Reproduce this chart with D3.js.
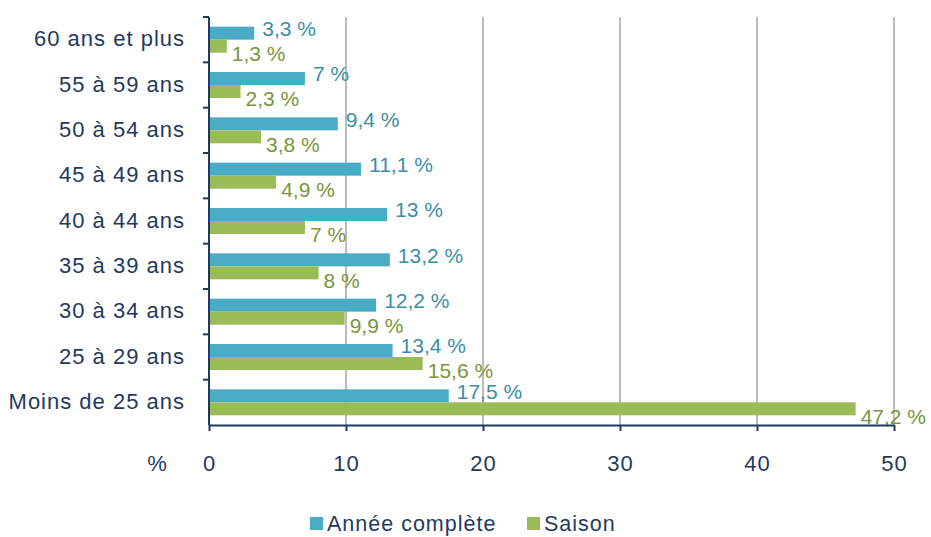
<!DOCTYPE html>
<html>
<head>
<meta charset="utf-8">
<script src="https://cdn.jsdelivr.net/npm/d3@7"></script>
<style>
  body { margin: 0; background: #fff; }
  svg text { font-family: "Liberation Sans", Arial, sans-serif; }
</style>
</head>
<body>
<div id="chart"></div>
<script>
// data
const categories = ['60 ans et plus', '55 à 59 ans', '50 à 54 ans', '45 à 49 ans', '40 à 44 ans',
  '35 à 39 ans', '30 à 34 ans', '25 à 29 ans', 'Moins de 25 ans'];
const anneeComplete = [3.3, 7, 9.4, 11.1, 13, 13.2, 12.2, 13.4, 17.5];
const saison = [1.3, 2.3, 3.8, 4.9, 7, 8, 9.9, 15.6, 47.2];
const seriesNames = ['Année complète', 'Saison'];
const xTicks = [0, 10, 20, 30, 40, 50];

const W = 931, H = 537;
const MARGIN_LEFT = 209, MARGIN_RIGHT = 34, MARGIN_TOP = 17, MARGIN_BOTTOM = 112;
const BLUE = '#4bacc6', GREEN = '#9bbb59';
const BLUE_TXT = '#3a8fa8', GREEN_TXT = '#78963a', NAVY = '#1f3a60';

const fmt = v => String(v).replace('.', ',') + ' %';

const svg = d3.select('#chart').append('svg').attr('width', W).attr('height', H);

const x = d3.scaleLinear().domain([0, 50]).range([MARGIN_LEFT, W - MARGIN_RIGHT - 3]);
const y = d3.scaleBand().domain(categories).range([MARGIN_TOP, H - MARGIN_BOTTOM]);
const barH = 13;

// gridlines
svg.append('g').selectAll('line').data(xTicks.slice(1)).join('line')
  .attr('x1', d => x(d)).attr('x2', d => x(d))
  .attr('y1', MARGIN_TOP).attr('y2', H - MARGIN_BOTTOM)
  .attr('stroke', '#a6a6a6').attr('stroke-width', 1.5);

const rows = categories.map((c, i) => ({ c, a: anneeComplete[i], s: saison[i] }));

// bars
const $vis = svg.append('g');
$vis.selectAll('.ba').data(rows).join('rect')
  .attr('x', x(0)).attr('y', d => y(d.c) + y.bandwidth() / 2 - barH)
  .attr('width', d => x(d.a) - x(0)).attr('height', barH).attr('fill', BLUE);
$vis.selectAll('.bs').data(rows).join('rect')
  .attr('x', x(0)).attr('y', d => y(d.c) + y.bandwidth() / 2)
  .attr('width', d => x(d.s) - x(0)).attr('height', barH).attr('fill', GREEN);

// value labels
$vis.selectAll('.la').data(rows).join('text')
  .attr('x', d => x(d.a) + 8).attr('y', d => y(d.c) + y.bandwidth() / 2 - 11)
  .attr('dy', '0.35em').attr('font-size', 21).attr('fill', BLUE_TXT)
  .text(d => fmt(d.a));
$vis.selectAll('.ls').data(rows).join('text')
  .attr('x', d => x(d.s) + 5).attr('y', d => y(d.c) + y.bandwidth() / 2 + 14)
  .attr('dy', '0.35em').attr('font-size', 21).attr('fill', GREEN_TXT)
  .text(d => fmt(d.s));

// axes
const yAxis = svg.append('g').attr('transform', `translate(${x(0)},0)`)
  .call(d3.axisLeft(y).tickSize(0).tickFormat(''));
yAxis.select('.domain').attr('stroke', NAVY).attr('stroke-width', 2).attr('d', `M0,${MARGIN_TOP}V${H - MARGIN_BOTTOM}`);
svg.append('g').selectAll('line').data(categories).join('line')
  .attr('x1', x(0) - 6).attr('x2', x(0))
  .attr('y1', d => y(d)).attr('y2', d => y(d))
  .attr('stroke', NAVY).attr('stroke-width', 2);
svg.append('g').selectAll('text').data(categories).join('text')
  .attr('x', x(0) - 24).attr('y', d => y(d) + y.bandwidth() / 2 - 1)
  .attr('dy', '0.35em').attr('text-anchor', 'end').attr('font-size', 22)
  .attr('letter-spacing', 1).attr('fill', NAVY)
  .text(d => d);

const xAxis = svg.append('g').attr('transform', `translate(0,${H - MARGIN_BOTTOM})`)
  .call(d3.axisBottom(x).tickValues(xTicks).tickSize(6).tickSizeOuter(0));
xAxis.select('.domain').attr('stroke', NAVY).attr('stroke-width', 2);
xAxis.selectAll('.tick line').attr('stroke', NAVY).attr('stroke-width', 2);
xAxis.selectAll('.tick text').attr('font-size', 22).attr('letter-spacing', 1)
  .attr('fill', NAVY).attr('y', 30)
  .style('font-family', '"Liberation Sans", Arial, sans-serif');

svg.append('text').attr('x', 157).attr('y', H - MARGIN_BOTTOM + 38).attr('dy', '0.35em')
  .attr('text-anchor', 'middle').attr('font-size', 22).attr('fill', NAVY).text('%');

// legend
const legend = svg.append('g');
const legX = [310, 527];
seriesNames.forEach((n, i) => {
  legend.append('rect').attr('x', legX[i]).attr('y', 517).attr('width', 13).attr('height', 13)
    .attr('fill', i === 0 ? BLUE : GREEN);
  legend.append('text').attr('x', legX[i] + 17).attr('y', 523).attr('dy', '0.35em')
    .attr('font-size', 21.5).attr('letter-spacing', 1).attr('fill', NAVY).text(n);
});
</script>
</body>
</html>
